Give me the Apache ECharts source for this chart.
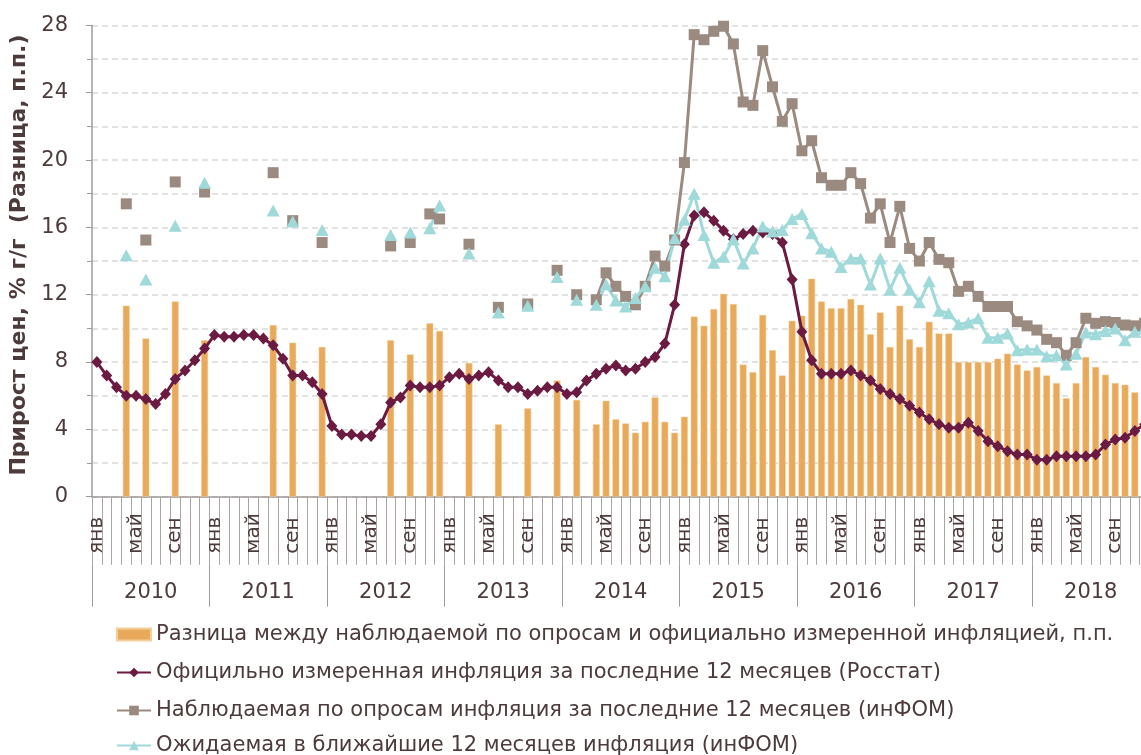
<!DOCTYPE html>
<html>
<head>
<meta charset="utf-8">
<script src="https://cdn.jsdelivr.net/npm/echarts@6/dist/echarts.min.js"></script>
<style>
  html, body { margin: 0; padding: 0; background: #fff; }
  #container { width: 1141px; height: 755px; }
</style>
</head>
<body>
<div id="container"></div>
<script>
var monthNames = ['янв', 'фев', 'мар', 'апр', 'май', 'июн', 'июл', 'авг', 'сен', 'окт', 'ноя', 'дек'];
var years = ['2010', '2011', '2012', '2013', '2014', '2015', '2016', '2017', '2018'];

// разница (п.п.)
var diff = [
    null, null, null, 11.35, null, 9.4, null, null, 11.6, null, null, 9.3,
    null, null, null, null, null, null, 10.2, null, 9.15, null, null, 8.9,
    null, null, null, null, null, null, 9.3, null, 8.45, null, 10.3, 9.85,
    null, null, 7.95, null, null, 4.3, null, null, 5.25, null, null, 6.9,
    null, 5.75, null, 4.3, 5.7, 4.6, 4.35, 3.8, 4.45, 5.9, 4.45, 3.8,
    4.75, 10.7, 10.15, 11.15, 12.05, 11.45, 7.85, 7.4, 10.8, 8.7, 7.2, 10.45,
    10.75, 12.95, 11.6, 11.2, 11.2, 11.75, 11.4, 9.65, 10.95, 8.9, 11.35, 9.35,
    8.9, 10.4, 9.7, 9.7, 8.0, 8.0, 8.0, 8.0, 8.2, 8.5, 7.85, 7.5,
    7.7, 7.2, 6.75, 5.85, 6.75, 8.3, 7.7, 7.25, 6.75, 6.65, 6.2, 6.0
];
// Росстат
var official = [
    8.0, 7.2, 6.5, 6.0, 6.0, 5.8, 5.5, 6.1, 7.0, 7.5, 8.1, 8.8,
    9.6, 9.5, 9.5, 9.6, 9.6, 9.4, 9.0, 8.2, 7.2, 7.2, 6.8, 6.1,
    4.2, 3.7, 3.7, 3.6, 3.6, 4.3, 5.6, 5.9, 6.6, 6.5, 6.5, 6.6,
    7.1, 7.3, 7.0, 7.2, 7.4, 6.9, 6.5, 6.5, 6.1, 6.3, 6.5, 6.5,
    6.1, 6.2, 6.9, 7.3, 7.6, 7.8, 7.5, 7.6, 8.0, 8.3, 9.1, 11.4,
    15.0, 16.7, 16.9, 16.4, 15.8, 15.3, 15.6, 15.8, 15.7, 15.6, 15.1, 12.9,
    9.8, 8.1, 7.3, 7.3, 7.3, 7.5, 7.2, 6.9, 6.4, 6.1, 5.8, 5.4,
    5.0, 4.6, 4.3, 4.1, 4.1, 4.4, 3.9, 3.3, 3.0, 2.7, 2.5, 2.5,
    2.2, 2.2, 2.4, 2.4, 2.4, 2.4, 2.5, 3.1, 3.4, 3.5, 3.9, 4.3
];
// наблюдаемая (инФОМ)
var observed = [
    null, null, null, 17.4, null, 15.25, null, null, 18.7, null, null, 18.1,
    null, null, null, null, null, null, 19.25, null, 16.4, null, null, 15.1,
    null, null, null, null, null, null, 14.9, null, 15.1, null, 16.8, 16.5,
    null, null, 15.0, null, null, 11.25, null, null, 11.45, null, null, 13.45,
    null, 12.0, null, 11.7, 13.3, 12.5, 11.9, 11.4, 12.5, 14.3, 13.7, 15.25,
    19.85, 27.45, 27.15, 27.65, 27.95, 26.9, 23.45, 23.25, 26.5, 24.35, 22.3, 23.35,
    20.55, 21.15, 18.95, 18.5, 18.5, 19.25, 18.6, 16.55, 17.4, 15.1, 17.25, 14.75,
    14.0, 15.1, 14.1, 13.9, 12.2, 12.5, 11.9, 11.3, 11.3, 11.3, 10.4, 10.15,
    9.9, 9.35, 9.15, 8.4, 9.15, 10.6, 10.3, 10.4, 10.35, 10.2, 10.15, 10.3
];
// ожидаемая (инФОМ)
var expected = [
    null, null, null, 14.35, null, 12.9, null, null, 16.1, null, null, 18.65,
    null, null, null, null, null, null, 17.0, null, 16.35, null, null, 15.85,
    null, null, null, null, null, null, 15.55, null, 15.7, null, 15.95, 17.3,
    null, null, 14.45, null, null, 10.95, null, null, 11.35, null, null, 13.05,
    null, 11.7, null, 11.4, 12.6, 11.65, 11.3, 11.8, 12.5, 13.6, 13.1, 15.35,
    16.45, 18.0, 15.55, 13.9, 14.25, 15.3, 13.85, 14.75, 16.05, 15.75, 15.85, 16.5,
    16.8, 15.65, 14.75, 14.55, 13.65, 14.15, 14.15, 12.6, 14.15, 12.3, 13.6, 12.3,
    11.55, 12.8, 11.05, 10.9, 10.25, 10.35, 10.6, 9.45, 9.45, 9.7, 8.7, 8.75,
    8.75, 8.35, 8.4, 7.85, 8.5, 9.75, 9.65, 9.85, 10.0, 9.3, 9.8, 10.0
];

var names = [
    'Разница между наблюдаемой по опросам и официально измеренной инфляцией, п.п.',
    'Официльно измеренная инфляция за последние 12 месяцев (Росстат)',
    'Наблюдаемая по опросам инфляция за последние 12 месяцев (инФОМ)',
    'Ожидаемая в ближайшие 12 месяцев инфляция (инФОМ)'
];

var months = [];
years.forEach(function (y) {
    monthNames.forEach(function (m, k) {
        months.push(y + '-' + (k + 1));
    });
});

var textColor = '#4d3b3b';
var fontName = 'DejaVu Sans';

// две легенды, чтобы последняя строка не переносилась в новую колонку
function makeLegend(top, items) {
    return {
        orient: 'vertical',
        left: 116,
        top: top,
        padding: 0,
        itemWidth: 34,
        itemHeight: 12,
        itemGap: 17,
        textStyle: { color: textColor, fontSize: 21, fontFamily: fontName },
        data: items
    };
}

var myChart = echarts.init(document.getElementById('container'));
var option = {
    animation: false,
    textStyle: { fontFamily: fontName },
    grid: {
        left: 92,
        top: 25.4,
        right: -8.5,
        bottom: 258.3,
        outerBoundsMode: 'none'
    },
    legend: [
        makeLegend(624, [{ name: names[0], icon: 'rect' }, { name: names[1] }, { name: names[2] }]),
        makeLegend(735, [{ name: names[3] }])
    ],
    xAxis: [
        {
            type: 'category',
            data: months,
            boundaryGap: true,
            axisLine: { lineStyle: { color: '#a09a9a', width: 1.5 } },
            axisTick: { show: true, interval: 0, length: 68, lineStyle: { color: '#aaa4a4', width: 1 } },
            axisLabel: {
                interval: 0,
                rotate: 90,
                align: 'left',
                verticalAlign: 'middle',
                margin: 57,
                color: textColor,
                fontSize: 20,
                formatter: function (v, i) {
                    var k = i % 12;
                    return (k === 0 || k === 4 || k === 8) ? monthNames[k] : '';
                }
            },
            splitLine: { show: false }
        },
        {
            type: 'category',
            data: years,
            position: 'bottom',
            offset: 68,
            boundaryGap: true,
            axisLine: { show: false },
            axisTick: { show: true, interval: 0, length: 42, lineStyle: { color: '#a09a9a', width: 1 } },
            axisLabel: { margin: 17, color: textColor, fontSize: 21 },
            splitLine: { show: false }
        }
    ],
    yAxis: {
        type: 'value',
        min: 0,
        max: 28,
        interval: 4,
        name: 'Прирост цен, % г/г  (Разница, п.п.)',
        nameLocation: 'middle',
        nameGap: 52,
        nameTextStyle: { color: textColor, fontSize: 22, fontWeight: 'bold', padding: [0, 0, 0, 12] },
        axisLine: { show: true, lineStyle: { color: '#a09a9a', width: 1.5 } },
        axisTick: { show: true, length: 6, lineStyle: { color: '#a09a9a' } },
        minorTick: { show: true, splitNumber: 2, length: 5, lineStyle: { color: '#a09a9a' } },
        axisLabel: { margin: 24, color: textColor, fontSize: 21 },
        splitLine: { lineStyle: { color: '#d9d9d9', width: 1.5, type: [6, 4] } },
        minorSplitLine: { show: true, lineStyle: { color: '#d9d9d9', width: 1.5, type: [6, 4] } }
    },
    series: [
        {
            name: names[0],
            type: 'bar',
            data: diff,
            barWidth: '70%',
            itemStyle: { color: '#e8aa5a', borderColor: '#f2cf9c', borderWidth: 0.5 }
        },
        {
            name: names[1],
            type: 'line',
            data: official,
            symbol: 'diamond',
            symbolSize: [11, 12],
            lineStyle: { color: '#6b1a42', width: 3 },
            itemStyle: { color: '#6b1a42' }
        },
        {
            name: names[2],
            type: 'line',
            data: observed,
            symbol: 'rect',
            symbolSize: 11,
            lineStyle: { color: '#9b8a7f', width: 3 },
            itemStyle: { color: '#9b8a7f' }
        },
        {
            name: names[3],
            type: 'line',
            data: expected,
            symbol: 'triangle',
            symbolSize: [13, 12],
            lineStyle: { color: '#9fd9d9', width: 3 },
            itemStyle: { color: '#9fd9d9' }
        }
    ]
};
myChart.setOption(option, true);
</script>
</body>
</html>
